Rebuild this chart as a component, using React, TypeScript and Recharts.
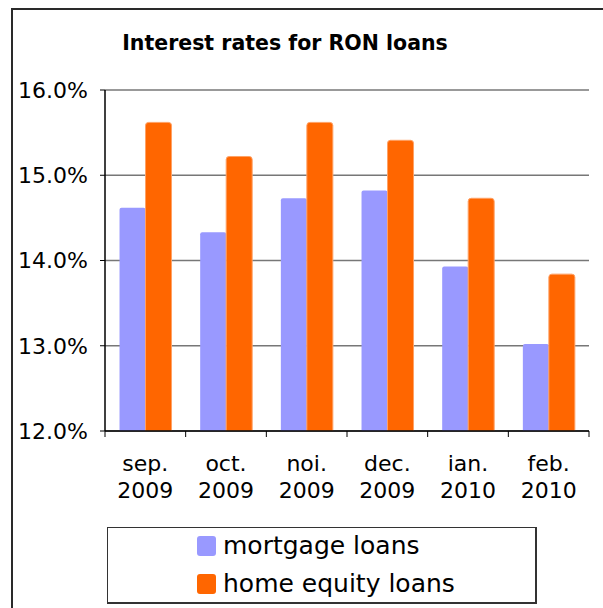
import React from "react";
import { BarChart, Bar, XAxis, YAxis, CartesianGrid } from "recharts";

const months = ["sep.", "oct.", "noi.", "dec.", "ian.", "feb."];
const years = ["2009", "2009", "2009", "2009", "2010", "2010"];
const mortgage = [14.62, 14.33, 14.73, 14.82, 13.93, 13.02];
const homeEquity = [15.62, 15.22, 15.62, 15.41, 14.73, 13.84];
const yTicks = [12, 13, 14, 15, 16];
const seriesNames = ["mortgage loans", "home equity loans"];
const title = "Interest rates for RON loans";

const MORTGAGE_COLOR = "#9999FF";
const HE_COLOR = "#FF6600";

const data = months.map((m, i) => ({
  month: m,
  year: years[i],
  label: m + "|" + years[i],
  mortgage: mortgage[i],
  homeEquity: homeEquity[i],
}));

const FONT = "Verdana, 'DejaVu Sans', sans-serif";

const XTick = (props: any) => {
  const { x, y, payload, index, visibleTicksCount } = props;
  const half = payload && payload.offset ? payload.offset : 40.33;
  const [m, yr] = String(payload.value).split("|");
  const isLast = index === (visibleTicksCount ?? months.length) - 1;
  return (
    <g>
      <line x1={x - half} y1={y} x2={x - half} y2={y + 6} stroke="#000" strokeWidth={1} />
      {isLast && <line x1={x + half} y1={y} x2={x + half} y2={y + 6} stroke="#000" strokeWidth={1} />}
      <text x={x} y={y + 40} textAnchor="middle" fontSize={22} fontFamily={FONT} fill="#000">
        {m}
      </text>
      <text x={x} y={y + 67} textAnchor="middle" fontSize={22} fontFamily={FONT} fill="#000">
        {yr}
      </text>
    </g>
  );
};

export default function App() {
  return (
    <div
      style={{
        position: "absolute",
        left: 0,
        top: 0,
        width: 603,
        height: 608,
        overflow: "hidden",
        background: "#fff",
      }}
    >
      <div
        style={{
          position: "absolute",
          left: 11,
          top: 8,
          width: 700,
          height: 700,
          border: "2px solid #2a2a2a",
          boxSizing: "border-box",
        }}
      />
      <div
        style={{
          position: "absolute",
          left: 0,
          width: 570,
          top: 30,
          textAlign: "center",
          fontFamily: FONT,
          fontWeight: "bold",
          fontSize: 20.5,
          lineHeight: "26px",
          color: "#000",
        }}
      >
        {title}
      </div>
      <div style={{ position: "absolute", left: 0, top: 0 }}>
        <BarChart
          width={603}
          height={608}
          data={data}
          margin={{ top: 90, right: 14, left: 0, bottom: 117 }}
          barCategoryGap="18%"
          barGap={0}
        >
          <CartesianGrid vertical={false} stroke="#777" strokeWidth={1.5} />
          <XAxis
            dataKey="label"
            height={60}
            tickSize={0}
            tickMargin={0}
            tick={<XTick />}
            axisLine={{ stroke: "#000", strokeWidth: 1.5 }}
            interval={0}
          />
          <YAxis
            width={105}
            domain={[12, 16]}
            ticks={yTicks}
            tickFormatter={(v: number) => v.toFixed(1) + "%"}
            tickSize={5}
            tickMargin={12}
            tick={{ fontSize: 22, fontFamily: FONT, fill: "#000" }}
            axisLine={{ stroke: "#000", strokeWidth: 1.5 }}
            tickLine={{ stroke: "#000" }}
            allowDataOverflow
          />
          <YAxis
            yAxisId="right"
            orientation="right"
            width={0}
            tick={false}
            tickLine={false}
            axisLine={{ stroke: "#888", strokeWidth: 1.5 }}
          />
          <Bar
            dataKey="mortgage"
            name={seriesNames[0]}
            fill={MORTGAGE_COLOR}
            radius={[2, 2, 0, 0]}
            isAnimationActive={false}
          />
          <Bar
            dataKey="homeEquity"
            name={seriesNames[1]}
            fill={HE_COLOR}
            stroke="#FFA266"
            strokeWidth={1}
            radius={[3, 3, 0, 0]}
            isAnimationActive={false}
          />
        </BarChart>
      </div>
      <div
        style={{
          position: "absolute",
          left: 107,
          top: 527,
          width: 430,
          height: 77,
          border: "1px solid #333",
          borderBottomWidth: 2,
          borderRightWidth: 2,
          boxSizing: "border-box",
          fontFamily: FONT,
          fontSize: 25,
          color: "#000",
        }}
      >
        {seriesNames.map((n, i) => (
          <div
            key={n}
            style={{
              position: "absolute",
              left: 89,
              top: 5 + i * 38,
              height: 26,
              display: "flex",
              alignItems: "center",
              whiteSpace: "nowrap",
              lineHeight: "26px",
            }}
          >
            <span
              style={{
                display: "inline-block",
                width: 19,
                height: 20,
                borderRadius: 3,
                background: i === 0 ? MORTGAGE_COLOR : HE_COLOR,
                marginRight: 7,
              }}
            />
            <span>{n}</span>
          </div>
        ))}
      </div>
    </div>
  );
}
